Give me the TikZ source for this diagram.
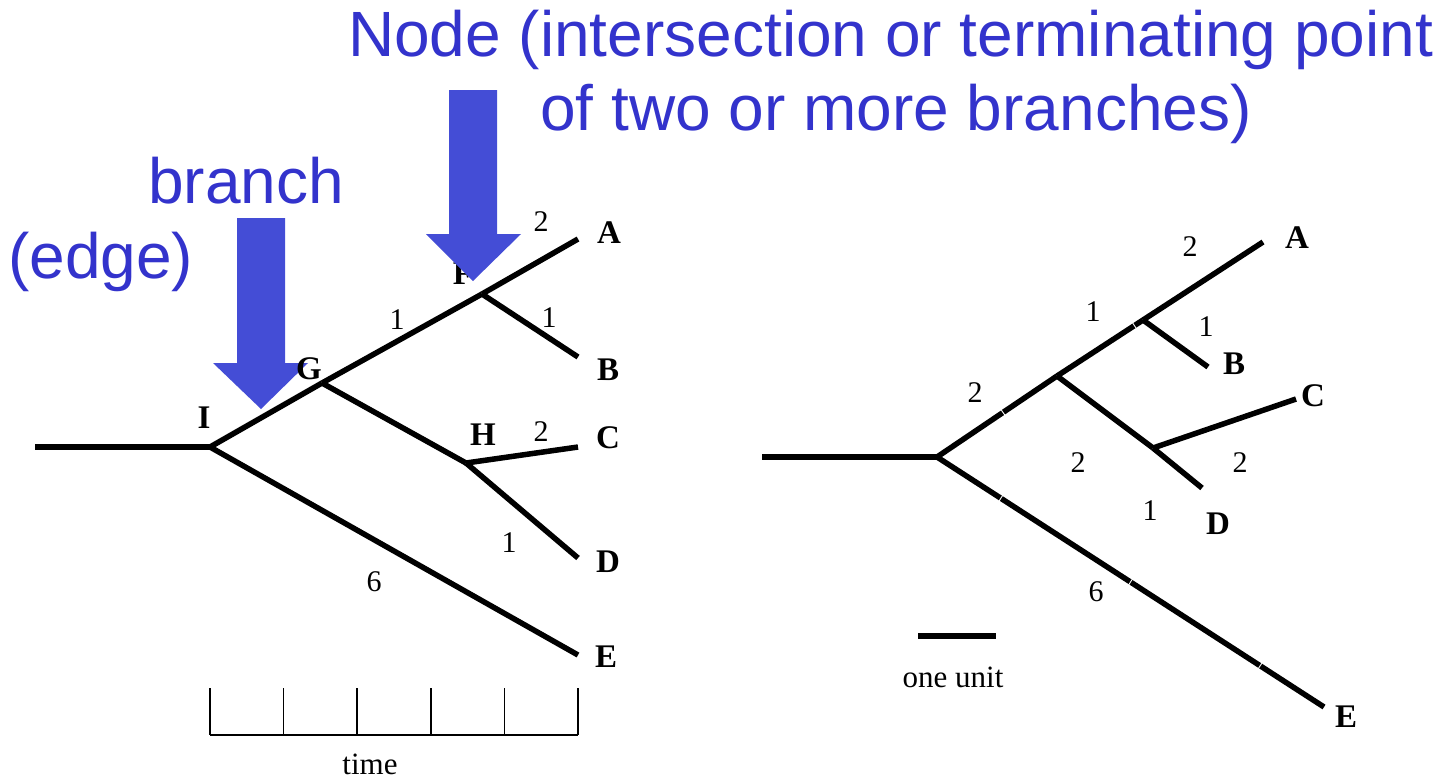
\documentclass[tikz,border=0pt]{standalone}
\usepackage{fontspec}
\setmainfont{Liberation Serif}
\newfontfamily\arialfont{Liberation Sans}
\definecolor{txtblue}{RGB}{51,51,204}
\definecolor{arrblue}{RGB}{68,77,214}
\begin{document}
\begin{tikzpicture}[x=1pt,y=-1pt,
  edgeline/.style={line width=5.5pt, line cap=butt, line join=miter},
  lab/.style={font=\fontsize{33}{33}\selectfont\bfseries, inner sep=0},
  num/.style={font=\fontsize{30}{30}\selectfont, inner sep=0},
  plain/.style={font=\fontsize{31}{31}\selectfont, inner sep=0},
  bigtxt/.style={font=\arialfont\fontsize{64}{64}\selectfont, text=txtblue, inner sep=0, anchor=base west},
  blockarrow/.style={fill=arrblue, draw=none},
  unitmark/.style={sloped, fill=white, inner sep=0, minimum width=0.9pt, minimum height=7pt},
  axisline/.style={line width=1.5pt}]
\useasboundingbox (0,0) rectangle (1445,780);

% ---------- titles ----------
\node[bigtxt] (t1) at (348,56) {Node (intersection or terminating point};
\node[bigtxt] (t2) at (540,130) {of two or more branches)};
\node[bigtxt] (t3) at (148,203) {branch};
\node[bigtxt] (t4) at (8,278) {(edge)};

% ---------- left tree ----------
\coordinate (L0) at (35,447);
\coordinate (I) at (210,447);
\coordinate (G) at (322,383);
\coordinate (F) at (482,294);
\coordinate (H) at (466,463);
\coordinate (A) at (578,239);
\coordinate (B) at (578,357);
\coordinate (C) at (578,447);
\coordinate (D) at (578,558);
\coordinate (E) at (578,655);

\draw[edgeline] (L0) -- (I);
\draw[edgeline] (I) -- (G);
\draw[edgeline] (G) -- (F);
\draw[edgeline] (F) -- (A);
\draw[edgeline] (F) -- (B);
\draw[edgeline] (G) -- (H);
\draw[edgeline] (H) -- (C);
\draw[edgeline] (H) -- (D);
\draw[edgeline] (I) -- (E);

\node[lab] (lI) at (204,418) {I};
\node[lab] (lF) at (463,274) {F};
\node[lab] (lH) at (483,435) {H};
\node[lab] (lA) at (609,233) {A};
\node[lab] (lB) at (608,370) {B};
\node[lab] (lC) at (608,438) {C};
\node[lab] (lD) at (608,562) {D};
\node[lab] (lE) at (606,657) {E};

\node[num] (n1) at (541,222) {2};
\node[num] (n2) at (397,320) {1};
\node[num] (n3) at (549,318) {1};
\node[num] (n4) at (541,432) {2};
\node[num] (n5) at (509,543) {1};
\node[num] (n6) at (374,582) {6};

% arrows
\fill[blockarrow] (449,90) -- (497,90) -- (497,234) -- (521,234) -- (473,281) -- (426,234) -- (449,234) -- cycle;
\fill[blockarrow] (237,218) -- (285,218) -- (285,363) -- (308,363) -- (261,409) -- (213,363) -- (237,363) -- cycle;
\node[lab] (lG) at (309,369) {G};

% time axis
\coordinate (T0) at (210,735);
\coordinate (T6) at (578,735);
\draw[axisline] (T0) -- (T6);
\foreach \i in {0,...,5} {
  \draw[axisline] ({210+\i*73.6},688) -- ({210+\i*73.6},735);
}
\draw[axisline] (578,688) -- (T6);
\node[plain] (time) at (370,764) {time};

% ---------- right tree ----------
\coordinate (R0) at (762,457);
\coordinate (R) at (937,457);
\coordinate (N1) at (1057,376);
\coordinate (NAB) at (1143,320);
\coordinate (NCD) at (1153,448);
\coordinate (rA) at (1263,242);
\coordinate (rB) at (1208,367);
\coordinate (rC) at (1296,399);
\coordinate (rD) at (1202,488);
\coordinate (rE) at (1324,707);

\draw[edgeline] (R0) -- (R);
\draw[edgeline] (R) -- (N1) node[unitmark, pos=0.55] {};
\draw[edgeline] (N1) -- (NAB) node[unitmark, pos=0.9] {};
\draw[edgeline] (NAB) -- (rA);
\draw[edgeline] (NAB) -- (rB);
\draw[edgeline] (N1) -- (NCD);
\draw[edgeline] (NCD) -- (rC);
\draw[edgeline] (NCD) -- (rD);
\draw[edgeline] (R) -- (rE)
  node[unitmark, pos=0.165] {}
  node[unitmark, pos=0.5] {}
  node[unitmark, pos=0.835] {};

\node[lab] (rlA) at (1297,238) {A};
\node[lab] (rlB) at (1234,364) {B};
\node[lab] (rlC) at (1313,396) {C};
\node[lab] (rlD) at (1218,524) {D};
\node[lab] (rlE) at (1346,717) {E};

\node[num] (m1) at (1190,247) {2};
\node[num] (m2) at (1093,312) {1};
\node[num] (m3) at (1206,327) {1};
\node[num] (m4) at (975,393) {2};
\node[num] (m5) at (1078,463) {2};
\node[num] (m6) at (1240,463) {2};
\node[num] (m7) at (1150,511) {1};
\node[num] (m8) at (1096,592) {6};

% scale bar
\coordinate (U0) at (918,636);
\coordinate (U1) at (996,636);
\draw[edgeline] (U0) -- (U1);
\node[plain] (unit) at (953,677) {one unit};
\end{tikzpicture}
\end{document}
